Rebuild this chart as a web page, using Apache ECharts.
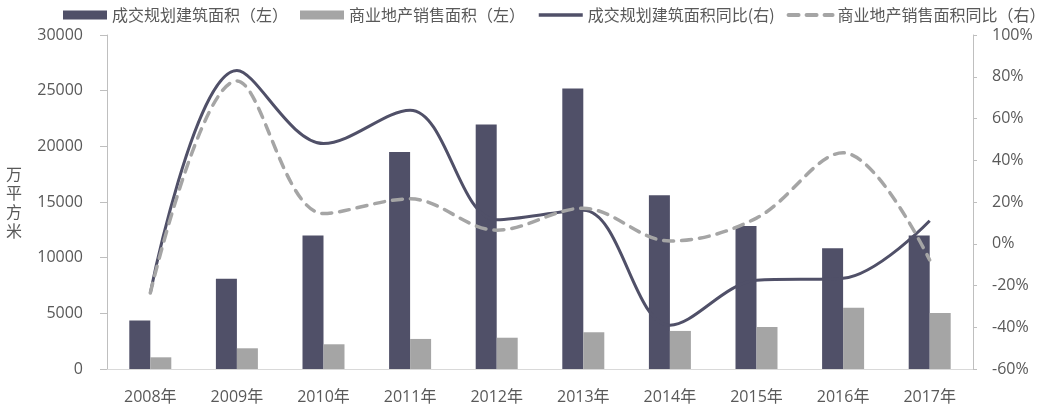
<!DOCTYPE html>
<html>
<head>
<meta charset="utf-8">
<script src="https://cdn.jsdelivr.net/npm/echarts@6/dist/echarts.min.js"></script>
<style>html,body{margin:0;padding:0;background:#fff}#c{width:1040px;height:410px}</style>
</head>
<body>
<div id="c"></div>
<script>
const categories = ['2008年','2009年','2010年','2011年','2012年','2013年','2014年','2015年','2016年','2017年'];
const planArea = [4350, 8100, 12000, 19500, 21950, 25200, 15600, 12850, 10850, 12000];
const salesArea = [1050, 1860, 2220, 2700, 2810, 3300, 3420, 3780, 5500, 5030];
const planYoY = [-23.6, 83, 48, 64, 11.5, 16, -39, -17.5, -16.5, 11];
const salesYoY = [-23.6, 78, 14.5, 21.5, 6.5, 17, 1.3, 12.3, 43.6, -7.8];
const leftTicks = {min: 0, max: 30000, interval: 5000};
const rightTicks = {min: -60, max: 100, interval: 20};

const txt = '#595959';
const font = '"Noto Sans CJK SC", "Microsoft YaHei", sans-serif';
const numFont = '"Open Sans", "Noto Sans CJK SC", sans-serif';
const chart = echarts.init(document.getElementById('c'));
chart.setOption({
  animation: false,
  textStyle: {fontFamily: font},
  legend: {
    left: 58, top: 2, width: 1000,
    itemWidth: 44, itemHeight: 9, itemGap: 12,
    textStyle: {color: txt, fontSize: 16, fontFamily: font},
    data: [
      {name: '成交规划建筑面积（左）', icon: 'rect'},
      {name: '商业地产销售面积（左）', icon: 'rect'},
      {name: '成交规划建筑面积同比(右)', itemStyle: {opacity: 0}, lineStyle: {width: 3.5}},
      {name: '商业地产销售面积同比（右）', itemStyle: {opacity: 0}, lineStyle: {width: 4}}
    ]
  },
  grid: {left: 107, right: 67, top: 35, bottom: 41, containLabel: false, outerBoundsMode: 'none'},
  xAxis: {
    type: 'category', data: categories,
    axisLine: {lineStyle: {color: '#d9d9d9', width: 1}},
    axisTick: {show: false},
    axisLabel: {color: txt, fontSize: 16, margin: 20, fontFamily: numFont}
  },
  yAxis: [
    {
      type: 'value', min: leftTicks.min, max: leftTicks.max, interval: leftTicks.interval,
      name: '万\n平\n方\n米', nameLocation: 'middle', nameRotate: 0, nameGap: 85,
      nameTextStyle: {color: txt, fontSize: 16, lineHeight: 19, padding: [0, 0, 16, 0], fontFamily: font},
      axisLine: {show: true, lineStyle: {color: '#bfbfbf'}},
      axisTick: {show: true, length: 7, lineStyle: {color: '#bfbfbf'}},
      axisLabel: {color: txt, fontSize: 16, margin: 24, fontFamily: numFont,
                  formatter: function (v) { return String(v); }},
      splitLine: {show: false}
    },
    {
      type: 'value', min: rightTicks.min, max: rightTicks.max, interval: rightTicks.interval,
      position: 'right',
      axisLine: {show: true, lineStyle: {color: '#bfbfbf'}},
      axisTick: {show: true, length: 4, lineStyle: {color: '#bfbfbf'}},
      axisLabel: {color: txt, fontSize: 16, margin: 19, formatter: '{value}%', fontFamily: numFont},
      splitLine: {show: false}
    }
  ],
  series: [
    {name: '成交规划建筑面积（左）', type: 'bar', data: planArea, barWidth: 21, barGap: '0%',
     itemStyle: {color: '#505068'}},
    {name: '商业地产销售面积（左）', type: 'bar', data: salesArea, barWidth: 21,
     itemStyle: {color: '#a5a5a5'}},
    {name: '成交规划建筑面积同比(右)', type: 'line', yAxisIndex: 1, data: planYoY, smooth: 0.35,
     symbol: 'none', lineStyle: {color: '#505068', width: 3}, itemStyle: {color: '#505068'}, z: 3},
    {name: '商业地产销售面积同比（右）', type: 'line', yAxisIndex: 1, data: salesYoY, smooth: 0.35,
     symbol: 'none', lineStyle: {color: '#a5a5a5', width: 3.5, type: [10, 8], cap: 'round'},
     itemStyle: {color: '#a5a5a5'}, z: 4}
  ]
});
</script>
</body>
</html>
